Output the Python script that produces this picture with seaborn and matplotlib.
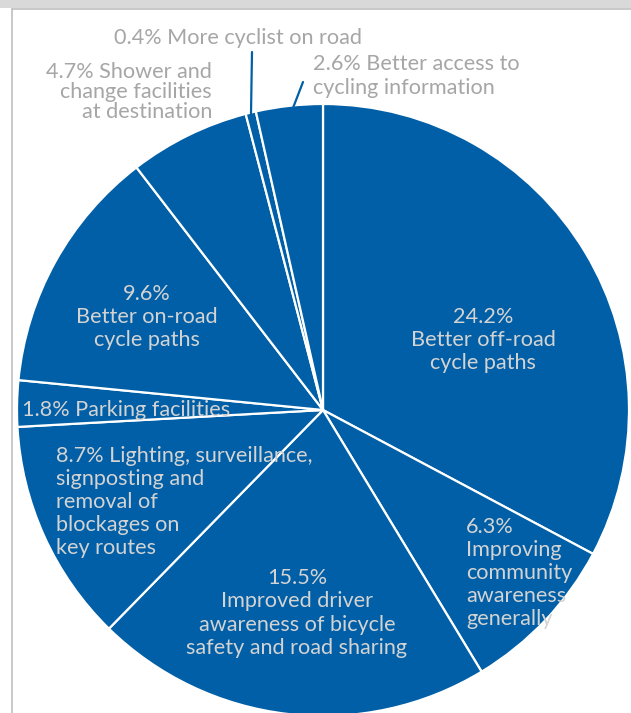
import matplotlib
matplotlib.use("Agg")
import matplotlib.pyplot as plt
from matplotlib.patches import Rectangle
from matplotlib.lines import Line2D
import seaborn as sns

# Share of responses per suggested improvement (%)
categories = [
    "Better off-road\ncycle paths",
    "Improving\ncommunity\nawareness\ngenerally",
    "Improved driver\nawareness of bicycle\nsafety and road sharing",
    "Lighting, surveillance,\nsignposting and\nremoval of\nblockages on\nkey routes",
    "Parking facilities",
    "Better on-road\ncycle paths",
    "Shower and\nchange facilities\nat destination",
    "More cyclist on road",
    "Better access to\ncycling information",
]
shares = [24.2, 6.3, 15.5, 8.7, 1.8, 9.6, 4.7, 0.4, 2.6]

sns.set_theme(style="white")
plt.rcParams["font.family"] = ["Lato", "DejaVu Sans"]

W, H = 631, 713
BLUE = "#005FA6"
INNER = "#D3D3D3"
OUTER = "#A6A6A6"
FS = 15.6

fig = plt.figure(figsize=(W / 100, H / 100), dpi=100)
ax = fig.add_axes([0, 0, 1, 1])

cx, cy, R = 323, 410, 306
wedges, _ = ax.pie(
    shares,
    startangle=90,
    counterclock=False,
    colors=[BLUE] * len(shares),
    radius=R,
    center=(cx, H - cy),
    wedgeprops=dict(edgecolor="white", linewidth=1.6),
    frame=False,
)
ax.set_xlim(0, W)
ax.set_ylim(0, H)
ax.set_aspect("equal")
ax.axis("off")


def y(py):
    return H - py


def txt(s, x, py, color, ha="center", ls=1.2):
    ax.text(x, y(py), s, ha=ha, va="center", multialignment=ha,
            color=color, fontsize=FS, linespacing=ls)


# labels drawn inside the slices
txt(f"{shares[0]}%\n{categories[0]}", 483, 340, INNER)
txt(f"{shares[1]}%\n{categories[1]}", 466, 573, INNER, ha="left")
txt(f"{shares[2]}%\n{categories[2]}", 297, 613, INNER)
txt(f"{shares[3]}% {categories[3]}", 56, 502, INNER, ha="left")
txt(f"{shares[4]}% {categories[4]}", 22, 410, INNER, ha="left")
txt(f"{shares[5]}%\n{categories[5]}", 147, 317, INNER)

# labels placed outside the thin slices
txt(f"{shares[6]}% {categories[6]}", 212, 92, OUTER, ha="right", ls=0.97)
txt(f"{shares[7]}% {categories[7]}", 238, 38, OUTER)
txt(f"{shares[8]}% {categories[8]}", 313, 76, OUTER, ha="left")

# leader lines for the two thinnest slices
ax.add_line(Line2D([252, 251], [y(52), y(114)], color=BLUE, lw=1.6))
ax.add_line(Line2D([303, 293], [y(82), y(108)], color=BLUE, lw=1.6))

# header band and frame edge
fig.patches.append(Rectangle((0, 1 - 8 / H), 1, 8 / H, transform=fig.transFigure,
                             facecolor="#D9D9D9", edgecolor="none", zorder=5))
fig.lines.append(Line2D([12 / W, 1], [1 - 9 / H, 1 - 9 / H], transform=fig.transFigure,
                        color="#BFBFBF", lw=1.2, zorder=6))
fig.lines.append(Line2D([12 / W, 12 / W], [0, 1 - 9 / H], transform=fig.transFigure,
                        color="#BFBFBF", lw=1.2, zorder=6))

fig.savefig("out.png", dpi=100)
